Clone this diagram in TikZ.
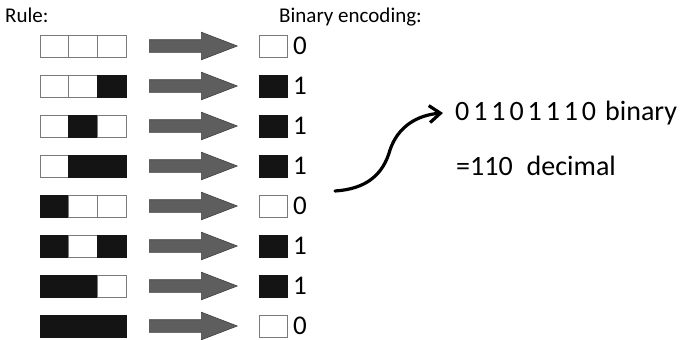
\documentclass[tikz,border=0pt]{standalone}
\usepackage{fontspec}
\setmainfont{Carlito}
\usetikzlibrary{shapes.arrows,arrows.meta}
\definecolor{cellgray}{HTML}{7A7A7A}
\definecolor{cellblack}{HTML}{141414}
\definecolor{arrowfill}{HTML}{5E5E5E}
\definecolor{arrowline}{HTML}{404040}
\begin{document}
\begin{tikzpicture}[x=1pt,y=-1pt,
  cell/.style={draw=cellgray, line width=0.9pt, minimum width=28.7pt, minimum height=22pt, inner sep=0pt, outer sep=0pt, anchor=west},
  on/.style={cell, fill=cellblack, draw=cellblack},
  off/.style={cell, fill=white},
  outbox/.style={minimum width=28pt},
  bigarrow/.style={single arrow, draw=arrowline, fill=arrowfill, line width=0.6pt,
    minimum height=88pt, inner xsep=0pt, inner ysep=6pt,
    single arrow head extend=7.5pt, single arrow tip angle=42, anchor=tail},
  digit/.style={font=\fontsize{27}{27}\selectfont, anchor=west, inner sep=0pt},
  header/.style={font=\fontsize{21}{21}\selectfont, anchor=base west, inner sep=0pt},
  big/.style={font=\fontsize{28}{28}\selectfont, anchor=west, inner sep=0pt},
  curvearrow/.style={line width=3.2pt, line cap=round, -{Straight Barb[length=11pt,width=17pt]}}
]
\useasboundingbox (0,0) rectangle (681,340);
\fill[white] (0,0) rectangle (681,340);

\node[header] (rule) at (5,22) {Rule:};
\node[header] (enc) at (279,22) {Binary encoding:};

\foreach \i/\a/\b/\c/\o/\ob in {1/off/off/off/0/off, 2/off/off/on/1/on, 3/off/on/off/1/on, 4/off/on/on/1/on,
    5/on/off/off/0/off, 6/on/off/on/1/on, 7/on/on/off/1/on, 8/on/on/on/0/off}{
  \pgfmathsetmacro{\yy}{6+40*\i}
  \node[\a] (r\i a) at (40,\yy) {};
  \node[\b] (r\i b) at (r\i a.east) {};
  \node[\c] (r\i c) at (r\i b.east) {};
  \node[bigarrow] (ar\i) at (149,\yy) {};
  \node[\ob, outbox] (o\i) at (259,\yy) {};
  \node[digit] (d\i) at ([xshift=6pt]o\i.east) {\o};
}

\node[big] (bin) at (455,113) {{\addfontfeature{LetterSpace=14}01101110}\hspace{9pt}binary};
\node[big] (dec) at (456,166) {=110\hspace{14pt}decimal};

\coordinate (cstart) at (335,191);
\draw[curvearrow] (cstart) .. controls (366,189) and (383,175) .. (390,150)
  .. controls (398,126) and (418,115) .. ([xshift=-12pt]bin.west);
\end{tikzpicture}
\end{document}
